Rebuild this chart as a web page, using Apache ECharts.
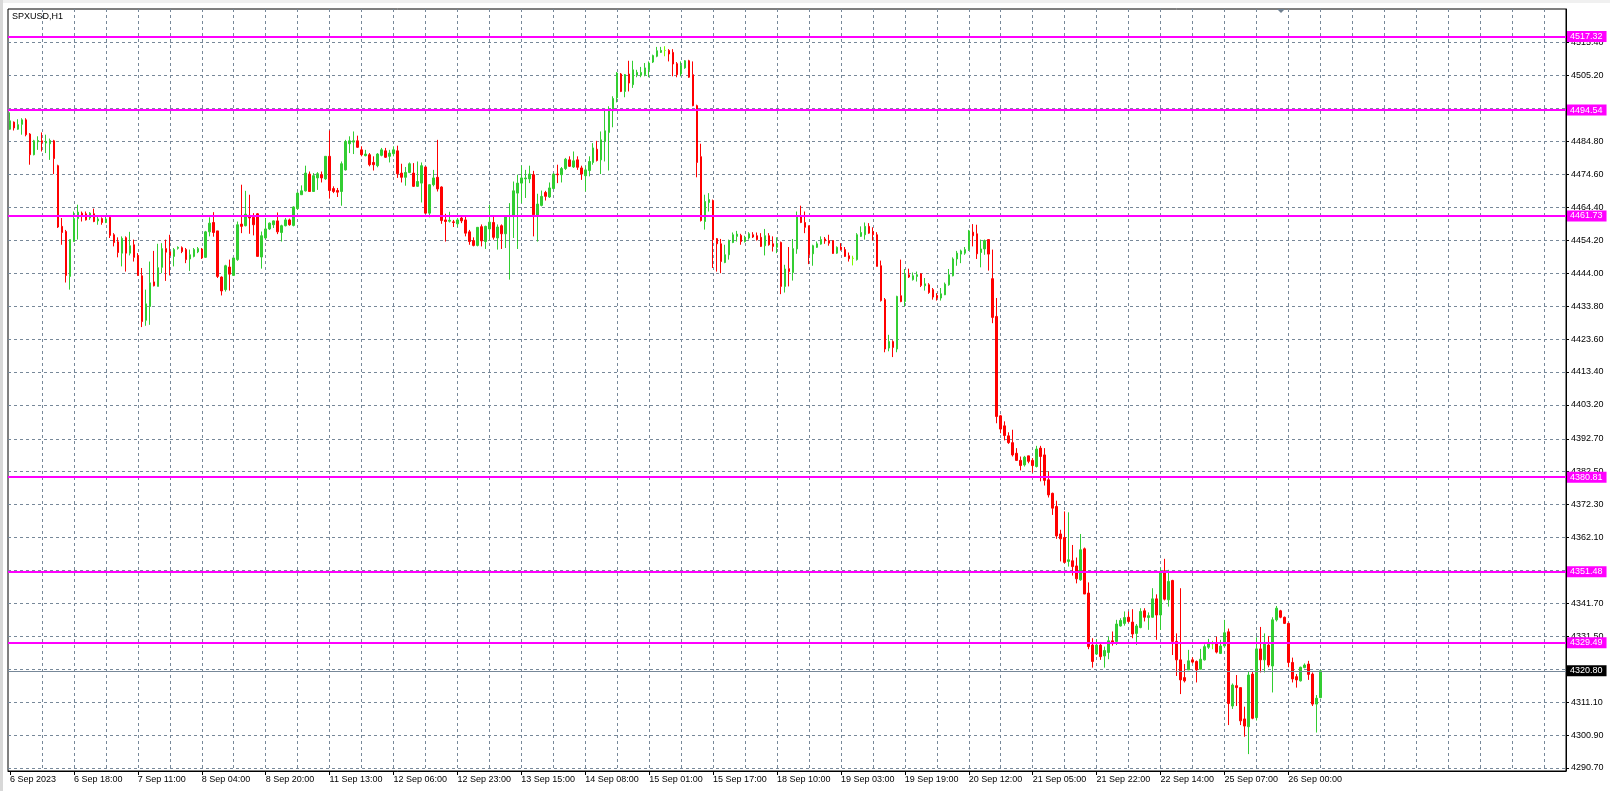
<!DOCTYPE html>
<html>
<head>
<meta charset="utf-8">
<title>SPXUSD,H1</title>
<script src="https://cdn.jsdelivr.net/npm/echarts@6/dist/echarts.min.js"></script>
<style>
  html, body { margin: 0; padding: 0; background: #fff; }
  #chart { width: 1610px; height: 791px; }
</style>
</head>
<body>
<div id="chart"></div>
<script>
// 时间轴标签（每16根K线一个）
const tickLabels = ['6 Sep 2023', '6 Sep 18:00', '7 Sep 11:00', '8 Sep 04:00', '8 Sep 20:00',
  '11 Sep 13:00', '12 Sep 06:00', '12 Sep 23:00', '13 Sep 15:00', '14 Sep 08:00', '15 Sep 01:00',
  '15 Sep 17:00', '18 Sep 10:00', '19 Sep 03:00', '19 Sep 19:00', '20 Sep 12:00', '21 Sep 05:00',
  '21 Sep 22:00', '22 Sep 14:00', '25 Sep 07:00', '26 Sep 00:00'];

// 价格轴刻度
const priceTicks = [4290.70, 4300.90, 4311.10, 4321.30, 4331.50, 4341.70, 4351.90, 4362.10, 4372.30,
  4382.50, 4392.70, 4403.20, 4413.40, 4423.60, 4433.80, 4444.00, 4454.20, 4464.40, 4474.60, 4484.80,
  4495.00, 4505.20, 4515.40];

// 水平线（支撑/阻力）和当前价
const levels = [4517.32, 4494.54, 4461.73, 4380.81, 4351.48, 4329.49];
const lastPrice = 4320.80;

// H1 K线：开盘、收盘、最低、最高
const openPrices = [
  4488.6, 4490.8, 4488.6, 4490.1, 4491.5, 4487.1, 4480.7, 4484.7, 4485.0, 4484.3,
  4484.1, 4485.0, 4477.3, 4458.5, 4456.9, 4443.0, 4453.8, 4460.9, 4462.6, 4462.4,
  4461.1, 4462.4, 4460.2, 4460.9, 4459.7, 4461.3, 4455.9, 4453.7, 4450.2, 4455.0,
  4450.2, 4452.8, 4449.5, 4443.2, 4429.4, 4433.7, 4441.3, 4439.9, 4445.8, 4451.6,
  4450.6, 4449.2, 4451.7, 4451.9, 4451.3, 4448.4, 4449.2, 4450.6, 4451.5, 4448.9,
  4456.8, 4459.7, 4457.1, 4442.8, 4438.9, 4445.9, 4443.3, 4448.2, 4459.2, 4458.7,
  4461.9, 4461.3, 4462.4, 4449.0, 4454.9, 4457.7, 4459.0, 4460.2, 4456.6, 4458.7,
  4460.5, 4458.8, 4464.0, 4468.3, 4469.5, 4474.7, 4469.3, 4473.5, 4474.5, 4473.2,
  4480.2, 4470.2, 4469.6, 4469.3, 4476.0, 4484.1, 4484.6, 4485.0, 4482.2, 4480.4,
  4480.7, 4478.3, 4477.3, 4480.5, 4481.9, 4480.2, 4481.0, 4481.9, 4475.0, 4473.7,
  4475.2, 4475.0, 4470.9, 4471.9, 4476.9, 4462.6, 4471.4, 4473.7, 4470.7, 4460.5,
  4460.1, 4459.9, 4459.3, 4461.1, 4460.5, 4456.8, 4454.1, 4452.6, 4458.4, 4453.8,
  4457.7, 4459.7, 4454.9, 4458.7, 4456.2, 4461.6, 4461.6, 4468.8, 4471.9, 4473.2,
  4473.2, 4474.5, 4461.8, 4465.0, 4469.0, 4467.6, 4470.2, 4474.7, 4474.5, 4476.4,
  4479.1, 4476.9, 4479.1, 4476.6, 4474.2, 4475.8, 4478.3, 4482.4, 4479.1, 4484.8,
  4487.6, 4494.3, 4498.3, 4505.7, 4500.3, 4505.7, 4502.4, 4505.3, 4505.3, 4505.5,
  4507.1, 4509.4, 4511.2, 4512.4, 4513.0, 4513.0, 4512.4, 4508.9, 4505.7, 4507.6,
  4509.8, 4505.5, 4495.9, 4480.1, 4460.0, 4465.9, 4466.5, 4454.7, 4453.1, 4447.3,
  4449.7, 4453.5, 4455.4, 4455.7, 4453.8, 4454.9, 4455.9, 4455.6, 4455.1, 4452.5,
  4455.6, 4453.1, 4452.0, 4453.5, 4439.9, 4445.4, 4444.2, 4451.5, 4461.8, 4459.7,
  4458.7, 4450.0, 4452.0, 4453.0, 4454.6, 4454.1, 4454.1, 4450.2, 4452.1, 4451.3,
  4449.4, 4448.6, 4448.2, 4455.4, 4455.9, 4458.5, 4456.9, 4455.9, 4446.3, 4435.8,
  4420.8, 4422.8, 4420.5, 4437.0, 4435.2, 4443.5, 4442.0, 4443.0, 4443.8, 4440.1,
  4440.4, 4438.9, 4437.1, 4436.3, 4437.3, 4440.4, 4443.2, 4448.4, 4449.9, 4450.2,
  4451.3, 4456.7, 4456.2, 4450.4, 4451.5, 4454.4, 4442.3, 4430.6, 4399.8, 4396.7,
  4393.6, 4391.5, 4388.2, 4386.0, 4384.6, 4387.4, 4386.0, 4384.1, 4389.8, 4387.7,
  4380.0, 4375.8, 4371.7, 4363.2, 4362.1, 4354.7, 4354.9, 4353.3, 4349.0, 4358.6,
  4344.9, 4328.8, 4326.0, 4328.8, 4325.4, 4326.5, 4330.1, 4329.9, 4334.7, 4335.5,
  4337.4, 4335.9, 4332.4, 4334.2, 4339.4, 4337.3, 4337.4, 4343.1, 4338.1, 4351.8,
  4342.8, 4348.8, 4329.9, 4324.2, 4318.7, 4321.1, 4324.2, 4323.7, 4321.3, 4324.2,
  4328.1, 4329.2, 4329.3, 4326.2, 4328.5, 4332.9, 4309.9, 4316.2, 4315.6, 4305.9,
  4303.5, 4319.8, 4306.3, 4327.6, 4324.2, 4328.8, 4322.3, 4336.6, 4339.4, 4337.4,
  4335.5, 4323.4, 4319.0, 4317.7, 4321.8, 4322.9, 4319.8, 4310.5, 4312.5
];
const closePrices = [
  4491.2, 4489.0, 4490.0, 4491.5, 4486.9, 4480.7, 4485.0, 4485.1, 4484.5, 4484.8,
  4485.1, 4479.5, 4458.3, 4456.6, 4443.3, 4454.4, 4460.9, 4462.9, 4461.6, 4460.5,
  4462.6, 4460.0, 4460.8, 4459.7, 4460.8, 4455.7, 4453.5, 4450.4, 4454.8, 4450.2,
  4452.5, 4448.9, 4443.3, 4429.0, 4434.5, 4441.0, 4440.1, 4445.7, 4451.6, 4450.5,
  4449.5, 4451.3, 4452.0, 4450.7, 4448.2, 4449.7, 4451.3, 4451.6, 4448.7, 4456.8,
  4459.5, 4456.6, 4443.0, 4438.5, 4446.3, 4443.7, 4448.7, 4459.0, 4458.5, 4462.3,
  4461.1, 4459.0, 4449.2, 4455.6, 4457.7, 4459.5, 4460.2, 4456.8, 4458.7, 4460.5,
  4459.0, 4464.5, 4468.8, 4469.5, 4475.0, 4469.3, 4474.2, 4474.8, 4473.5, 4480.2,
  4469.6, 4469.3, 4469.1, 4477.9, 4484.8, 4485.0, 4485.0, 4483.0, 4480.7, 4480.9,
  4477.6, 4477.6, 4480.9, 4482.2, 4479.9, 4481.2, 4482.2, 4474.8, 4473.7, 4475.2,
  4477.9, 4470.9, 4472.4, 4477.3, 4462.6, 4471.4, 4473.5, 4470.1, 4460.3, 4460.0,
  4460.4, 4459.7, 4460.5, 4460.2, 4456.4, 4453.8, 4452.6, 4458.2, 4454.0, 4458.5,
  4459.8, 4455.1, 4458.3, 4456.2, 4461.4, 4461.8, 4469.5, 4471.9, 4473.5, 4473.5,
  4474.7, 4462.1, 4465.4, 4467.8, 4467.8, 4470.4, 4474.7, 4474.5, 4476.4, 4479.3,
  4477.1, 4478.8, 4476.8, 4474.7, 4476.0, 4478.6, 4482.8, 4478.9, 4485.3, 4488.1,
  4494.3, 4498.1, 4506.0, 4500.3, 4505.5, 4502.9, 4507.0, 4506.2, 4506.2, 4507.6,
  4509.1, 4511.4, 4512.9, 4513.0, 4513.0, 4511.9, 4508.8, 4505.5, 4508.3, 4509.8,
  4504.7, 4495.9, 4478.3, 4460.3, 4466.2, 4466.8, 4454.4, 4453.1, 4447.6, 4449.7,
  4454.1, 4455.9, 4456.1, 4453.8, 4455.1, 4456.2, 4455.2, 4454.4, 4452.3, 4455.6,
  4452.8, 4452.3, 4453.1, 4439.9, 4445.3, 4444.5, 4451.6, 4461.8, 4459.7, 4458.2,
  4449.7, 4452.5, 4453.1, 4454.4, 4454.0, 4453.3, 4450.1, 4452.0, 4451.3, 4449.2,
  4448.5, 4448.6, 4455.9, 4456.6, 4458.5, 4456.4, 4455.9, 4446.1, 4435.5, 4420.5,
  4422.8, 4421.0, 4436.8, 4435.2, 4443.5, 4442.8, 4443.2, 4443.5, 4440.2, 4440.7,
  4438.0, 4436.6, 4436.3, 4437.6, 4440.6, 4443.5, 4448.4, 4450.2, 4450.9, 4451.3,
  4457.1, 4455.6, 4450.0, 4451.5, 4454.1, 4449.9, 4430.3, 4399.6, 4395.7, 4393.7,
  4391.5, 4387.7, 4386.0, 4384.4, 4387.0, 4385.7, 4384.4, 4389.5, 4387.2, 4379.8,
  4375.3, 4371.2, 4362.6, 4361.7, 4354.4, 4355.2, 4353.1, 4349.3, 4358.3, 4344.6,
  4328.3, 4323.7, 4328.8, 4325.2, 4327.1, 4330.1, 4329.5, 4335.3, 4336.4, 4337.3,
  4336.1, 4332.2, 4334.7, 4339.2, 4337.4, 4337.9, 4343.1, 4338.1, 4351.2, 4343.0,
  4348.5, 4329.9, 4324.2, 4318.0, 4317.7, 4323.9, 4323.5, 4321.1, 4324.4, 4328.3,
  4329.3, 4329.2, 4326.6, 4328.5, 4332.6, 4310.7, 4316.4, 4315.6, 4305.3, 4303.7,
  4319.5, 4306.1, 4327.6, 4324.2, 4329.1, 4322.6, 4336.6, 4340.2, 4337.4, 4335.5,
  4323.4, 4318.3, 4318.0, 4321.9, 4322.6, 4319.7, 4310.5, 4312.3, 4320.8
];
const lowPrices = [
  4488.4, 4488.2, 4488.4, 4486.9, 4486.4, 4477.6, 4480.5, 4482.2, 4481.7, 4481.2,
  4479.1, 4474.7, 4458.0, 4452.8, 4441.1, 4438.9, 4453.8, 4454.4, 4460.0, 4460.3,
  4460.5, 4459.8, 4459.0, 4459.0, 4459.5, 4454.9, 4452.3, 4448.9, 4446.1, 4444.5,
  4449.5, 4447.6, 4443.2, 4427.3, 4427.7, 4428.0, 4439.9, 4439.9, 4444.0, 4441.6,
  4443.3, 4446.1, 4451.3, 4450.2, 4447.1, 4444.7, 4448.9, 4450.2, 4448.4, 4448.7,
  4455.4, 4455.3, 4442.5, 4437.1, 4438.3, 4438.6, 4443.3, 4447.8, 4456.4, 4458.5,
  4456.2, 4455.7, 4449.2, 4445.4, 4454.7, 4457.4, 4458.0, 4456.1, 4453.8, 4458.5,
  4458.7, 4458.5, 4463.6, 4468.3, 4469.3, 4469.3, 4469.3, 4469.8, 4472.1, 4472.9,
  4467.1, 4468.8, 4467.6, 4464.9, 4475.8, 4481.2, 4480.9, 4482.8, 4480.2, 4480.2,
  4477.1, 4475.8, 4476.8, 4480.2, 4479.7, 4478.3, 4480.2, 4473.5, 4472.1, 4471.1,
  4475.0, 4470.7, 4470.7, 4465.9, 4462.4, 4461.3, 4470.9, 4469.3, 4459.3, 4453.8,
  4459.7, 4458.3, 4458.3, 4459.5, 4455.4, 4452.8, 4452.3, 4452.3, 4452.3, 4451.5,
  4454.4, 4454.4, 4451.3, 4451.5, 4451.8, 4442.0, 4454.9, 4451.5, 4465.7, 4467.3,
  4471.9, 4455.4, 4453.8, 4464.7, 4466.5, 4467.3, 4470.1, 4471.9, 4472.1, 4476.0,
  4476.9, 4476.6, 4476.0, 4472.9, 4469.3, 4474.0, 4477.6, 4478.6, 4474.7, 4478.6,
  4475.8, 4489.2, 4496.9, 4500.1, 4498.5, 4500.3, 4501.4, 4504.7, 4504.7, 4505.0,
  4504.7, 4509.1, 4510.9, 4512.2, 4511.2, 4509.6, 4505.0, 4504.7, 4505.0, 4507.3,
  4504.5, 4495.7, 4473.7, 4460.0, 4457.5, 4463.1, 4445.6, 4444.5, 4444.0, 4447.1,
  4448.2, 4453.3, 4453.8, 4452.8, 4453.5, 4454.4, 4454.9, 4454.1, 4452.1, 4449.5,
  4452.5, 4450.7, 4450.2, 4437.5, 4438.0, 4439.9, 4441.7, 4450.0, 4459.5, 4456.4,
  4446.8, 4446.3, 4451.8, 4452.8, 4453.1, 4452.5, 4450.0, 4450.0, 4451.0, 4449.0,
  4447.6, 4446.4, 4447.9, 4455.2, 4454.4, 4456.2, 4454.1, 4446.1, 4435.2, 4419.5,
  4419.8, 4418.0, 4419.5, 4435.0, 4433.7, 4442.5, 4441.7, 4441.4, 4439.7, 4438.6,
  4437.6, 4435.8, 4435.5, 4435.5, 4437.2, 4440.1, 4443.0, 4446.3, 4447.1, 4449.7,
  4450.9, 4452.3, 4448.4, 4445.8, 4449.7, 4444.8, 4428.5, 4397.5, 4394.4, 4392.2,
  4391.1, 4387.2, 4385.9, 4382.9, 4384.1, 4385.1, 4382.2, 4383.8, 4379.5, 4378.2,
  4374.5, 4369.1, 4361.7, 4354.7, 4354.1, 4353.1, 4350.3, 4347.9, 4348.7, 4344.6,
  4327.5, 4321.8, 4325.7, 4324.2, 4321.8, 4324.4, 4328.6, 4328.8, 4334.5, 4334.8,
  4335.7, 4330.9, 4328.8, 4334.0, 4336.1, 4333.5, 4337.3, 4330.4, 4333.5, 4342.6,
  4340.7, 4325.7, 4319.2, 4313.6, 4317.2, 4321.1, 4323.1, 4317.2, 4321.3, 4324.0,
  4327.6, 4327.5, 4326.2, 4326.0, 4328.3, 4304.0, 4309.0, 4309.9, 4304.0, 4300.4,
  4295.0, 4305.8, 4305.4, 4320.3, 4320.3, 4321.9, 4314.1, 4336.1, 4337.1, 4335.3,
  4321.9, 4317.2, 4315.6, 4317.5, 4321.6, 4318.0, 4309.9, 4301.7, 4312.3
];
const highPrices = [
  4493.8, 4491.0, 4491.7, 4492.0, 4492.0, 4487.4, 4485.3, 4486.4, 4487.6, 4486.9,
  4485.7, 4485.3, 4477.6, 4461.1, 4457.4, 4454.4, 4463.1, 4465.2, 4463.1, 4463.1,
  4462.9, 4464.0, 4461.6, 4461.3, 4461.6, 4461.3, 4456.4, 4455.1, 4455.4, 4455.4,
  4456.8, 4454.4, 4450.2, 4445.6, 4438.9, 4447.6, 4450.9, 4453.1, 4453.3, 4454.4,
  4455.9, 4451.8, 4452.3, 4452.3, 4451.8, 4451.3, 4451.8, 4452.1, 4451.8, 4457.1,
  4461.3, 4462.9, 4457.1, 4443.0, 4446.6, 4448.2, 4448.7, 4460.0, 4471.4, 4469.5,
  4468.3, 4462.6, 4462.6, 4456.9, 4461.1, 4459.7, 4460.3, 4462.8, 4459.0, 4461.1,
  4460.9, 4464.7, 4469.1, 4471.2, 4477.3, 4475.5, 4475.0, 4475.3, 4475.5, 4480.2,
  4488.2, 4470.9, 4470.4, 4478.6, 4485.3, 4486.4, 4487.9, 4486.6, 4483.3, 4482.2,
  4481.2, 4480.2, 4481.2, 4482.8, 4482.8, 4482.2, 4483.3, 4483.5, 4477.9, 4476.9,
  4478.3, 4478.1, 4478.6, 4478.3, 4477.1, 4471.6, 4476.0, 4485.3, 4470.9, 4462.4,
  4463.0, 4460.5, 4461.1, 4461.8, 4461.8, 4457.4, 4455.1, 4458.3, 4459.1, 4458.7,
  4465.2, 4462.0, 4459.1, 4459.1, 4462.0, 4465.7, 4472.4, 4474.5, 4477.3, 4476.0,
  4477.3, 4475.7, 4468.6, 4469.6, 4469.5, 4472.1, 4475.0, 4477.6, 4476.9, 4479.7,
  4480.2, 4481.7, 4480.2, 4477.3, 4477.1, 4480.2, 4484.3, 4485.0, 4487.9, 4494.5,
  4495.7, 4498.8, 4506.3, 4506.0, 4505.7, 4509.8, 4509.8, 4507.0, 4507.9, 4509.1,
  4509.6, 4511.7, 4514.1, 4514.1, 4514.3, 4513.4, 4513.4, 4509.4, 4509.6, 4510.0,
  4510.1, 4509.6, 4496.2, 4484.1, 4468.3, 4468.8, 4466.8, 4454.9, 4454.6, 4452.8,
  4454.4, 4456.6, 4457.1, 4456.2, 4455.6, 4456.7, 4456.7, 4456.6, 4456.4, 4457.7,
  4456.4, 4455.4, 4455.1, 4453.8, 4446.6, 4452.1, 4454.6, 4463.1, 4464.9, 4463.1,
  4458.7, 4452.8, 4453.8, 4455.4, 4455.2, 4455.9, 4454.1, 4452.3, 4453.3, 4452.1,
  4450.4, 4449.4, 4456.4, 4458.5, 4459.7, 4459.5, 4458.2, 4456.7, 4447.9, 4436.3,
  4424.9, 4423.2, 4437.0, 4448.2, 4445.3, 4445.4, 4444.2, 4444.5, 4444.0, 4442.5,
  4440.9, 4439.4, 4437.8, 4439.4, 4441.1, 4445.3, 4448.9, 4450.9, 4451.3, 4452.1,
  4457.4, 4459.2, 4459.0, 4454.4, 4454.4, 4454.4, 4451.3, 4436.3, 4400.1, 4398.1,
  4394.7, 4395.5, 4389.8, 4387.2, 4387.4, 4387.4, 4386.7, 4390.5, 4390.5, 4389.8,
  4382.6, 4376.0, 4373.5, 4364.5, 4370.2, 4369.9, 4359.8, 4355.9, 4363.2, 4359.0,
  4348.2, 4330.9, 4330.6, 4329.1, 4328.3, 4331.4, 4333.0, 4336.6, 4337.1, 4339.2,
  4339.2, 4339.9, 4335.3, 4340.2, 4340.2, 4338.9, 4346.4, 4344.5, 4352.6, 4355.5,
  4352.1, 4349.0, 4332.4, 4346.4, 4322.9, 4327.3, 4325.0, 4324.0, 4327.6, 4329.0,
  4330.7, 4330.1, 4331.4, 4330.4, 4336.6, 4333.9, 4316.9, 4319.5, 4315.6, 4309.7,
  4320.6, 4320.6, 4331.2, 4334.4, 4332.4, 4331.6, 4337.4, 4340.9, 4339.7, 4337.6,
  4335.7, 4324.9, 4319.8, 4322.1, 4323.1, 4323.9, 4320.3, 4313.3, 4321.1
];

// 图表右侧留白，总共的K线位数
const slotCount = 390;
const fontFamily = '"Liberation Sans", Arial, sans-serif';

const slots = [];
for (let i = 0; i < slotCount; i++) {
  slots.push(String(i));
}
const candles = openPrices.map((o, i) => [o, closePrices[i], lowPrices[i], highPrices[i]]);

const isLabelSlot = (index) => index % 16 === 0 && index / 16 < tickLabels.length;

const levelLines = levels.map(v => ({
  yAxis: v,
  lineStyle: { color: '#ff00ff', width: 2, type: 'solid' },
  label: { backgroundColor: '#ff00ff', color: '#ffffff' }
}));
levelLines.push({
  yAxis: lastPrice,
  lineStyle: { color: '#778899', width: 1, type: 'solid' },
  label: { backgroundColor: '#000000', color: '#ffffff' }
});

let myChart = echarts.init(document.getElementById('chart'));
// 绘制图表
myChart.setOption({
  animation: false,
  backgroundColor: '#ffffff',
  title: {
    text: 'SPXUSD,H1',
    left: 12,
    top: 12,
    padding: 0,
    textStyle: { fontSize: 9, fontWeight: 'normal', color: '#000', fontFamily: fontFamily }
  },
  grid: {
    left: 8,
    right: 44,
    top: 9,
    bottom: 20,
    show: true,
    borderColor: '#000',
    borderWidth: 1,
    backgroundColor: 'transparent'
  },
  xAxis: {
    type: 'category',
    data: slots,
    boundaryGap: true,
    axisLine: { show: true, lineStyle: { color: '#000' } },
    axisTick: {
      show: true,
      alignWithLabel: true,
      length: 4,
      interval: isLabelSlot,
      lineStyle: { color: '#000' }
    },
    axisLabel: {
      interval: isLabelSlot,
      formatter: (value) => tickLabels[Number(value) / 16],
      align: 'left',
      margin: 4,
      color: '#000',
      fontSize: 9,
      fontFamily: fontFamily
    },
    splitLine: {
      show: true,
      alignWithLabel: true,
      interval: (index) => index % 8 === 0 && index > 0,
      lineStyle: { color: '#778899', width: 1, type: [3, 3] }
    }
  },
  yAxis: {
    type: 'value',
    position: 'right',
    min: 4289.77,
    max: 4525.84,
    axisLine: { show: true, lineStyle: { color: '#000' } },
    axisTick: { show: true, length: 3, customValues: priceTicks, lineStyle: { color: '#000' } },
    axisLabel: {
      customValues: priceTicks,
      formatter: (v) => v.toFixed(2),
      margin: 5,
      color: '#000',
      fontSize: 9,
      fontFamily: fontFamily
    },
    splitLine: { show: true, lineStyle: { color: '#778899', width: 1, type: [3, 3] } }
  },
  series: [
    {
      type: 'candlestick',
      data: candles,
      barWidth: 2,
      itemStyle: {
        color: '#32cd32',
        color0: '#ff0000',
        borderColor: '#32cd32',
        borderColor0: '#ff0000',
        borderColorDoji: '#7cfc00',
        borderWidth: 1
      },
      markLine: {
        silent: true,
        animation: false,
        symbol: ['none', 'none'],
        label: {
          position: 'end',
          distance: 1,
          formatter: (p) => Number(p.value).toFixed(2),
          fontSize: 9,
          fontFamily: fontFamily,
          lineHeight: 10,
          padding: [1, 4, 0, 3]
        },
        data: levelLines
      }
    }
  ],
  graphic: [
    { type: 'rect', left: 0, top: 0, shape: { width: 1610, height: 3 }, style: { fill: '#f0f0f0' }, silent: true },
    { type: 'rect', left: 0, top: 0, shape: { width: 3, height: 791 }, style: { fill: '#d8d8d8' }, silent: true },
    { type: 'polygon', shape: { points: [[1277, 9], [1285, 9], [1281, 13]] }, style: { fill: '#708090' }, silent: true }
  ]
});
</script>
</body>
</html>
